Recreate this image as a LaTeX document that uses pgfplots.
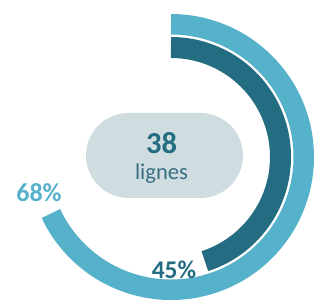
\documentclass[border=0pt]{standalone}
\usepackage{pgfplots}
\pgfplotsset{compat=1.18}
\usepackage{fontspec}
\setmainfont{Carlito}
\definecolor{outerc}{HTML}{56B1CB}
\definecolor{innerc}{HTML}{246C82}
\definecolor{rectc}{HTML}{CFDDE1}
\definecolor{lignesc}{HTML}{3A6F81}
\begin{document}
\begin{tikzpicture}[x=1pt,y=1pt]
\useasboundingbox (0,0) rectangle (315,302);
\begin{axis}[at={(0,0)}, anchor=south west, scale only axis,
  width=315pt, height=302pt, xmin=-171, xmax=144, ymin=-145, ymax=157,
  hide axis, clip=false]
% outer ring: 68 %
\addplot[outerc, line width=20.5pt, domain=0:68, samples=200, variable=\p]
  ({132.75*cos(90-3.6*\p)}, {132.75*sin(90-3.6*\p)});
% inner ring: 45 %
\addplot[innerc, line width=21pt, domain=0:45, samples=150, variable=\p]
  ({109.5*cos(90-3.6*\p)}, {109.5*sin(90-3.6*\p)});
\node[fill=rectc, rounded corners=42.5pt, minimum width=157pt, minimum height=85pt, inner sep=0pt] at (axis cs:-6.5,1.5) {};
\node[anchor=base, text=innerc, font=\fontsize{30.5}{30.5}\selectfont\bfseries, inner sep=0pt] at (axis cs:-9.5,3.7) {38};
\node[anchor=base, text=lignesc, font=\fontsize{22.6}{22.6}\selectfont, inner sep=0pt] at (axis cs:-9.5,-23) {lignes};
\node[anchor=base, text=outerc, font=\fontsize{26}{26}\selectfont\bfseries, inner sep=0pt] at (axis cs:-132,-44.7) {68\%};
\node[anchor=base, text=innerc, font=\fontsize{25.5}{25.5}\selectfont\bfseries, inner sep=0pt] at (axis cs:3,-121.3) {45\%};
\end{axis}
\end{tikzpicture}
\end{document}
